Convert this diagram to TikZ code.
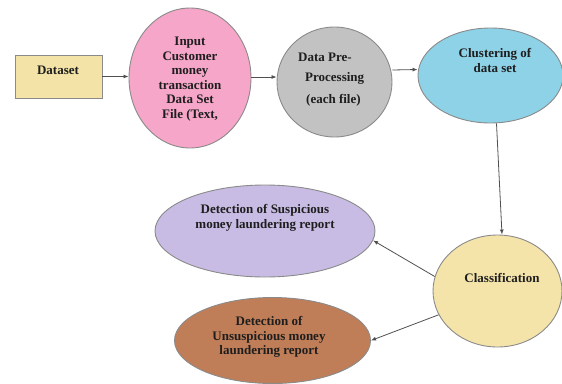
\documentclass[tikz,border=0pt]{standalone}
\usepackage{fontspec}
\setmainfont{Liberation Serif}[BoldFont={Liberation Serif Bold}]
\usetikzlibrary{shapes.geometric,arrows.meta}
\definecolor{bordc}{HTML}{8A8A8A}
\definecolor{arrc}{HTML}{505050}
\definecolor{txtc}{HTML}{1E1E1E}
\definecolor{dsc}{HTML}{F3E3A6}
\definecolor{pinkc}{HTML}{F6A6C8}
\definecolor{grayc}{HTML}{C2C2C2}
\definecolor{bluec}{HTML}{8ED2E8}
\definecolor{classc}{HTML}{F5E4AA}
\definecolor{purpc}{HTML}{C9BCE4}
\definecolor{brownc}{HTML}{C07E58}
\begin{document}
\begin{tikzpicture}[x=1pt,y=-1pt,
  shp/.style={draw=bordc, line width=0.9pt},
  ell/.style={shp, ellipse, inner sep=0pt},
  txt/.style={font=\fontsize{13}{14.5}\selectfont\bfseries, text=txtc, align=center, inner sep=0pt},
  arr/.style={draw=arrc, line width=0.8pt, -{Latex[length=5pt,width=4pt]}}]
\useasboundingbox (0,0) rectangle (562,383);
% shapes
\node[shp, rectangle, fill=dsc, minimum width=87pt, minimum height=43pt, inner sep=0pt] (ds) at (58.5,76.5) {};
\node[ell, fill=pinkc, minimum width=122pt, minimum height=140pt] (pink) at (190,78) {};
\node[ell, fill=grayc, minimum width=115pt, minimum height=110pt] (gray) at (334.5,82) {};
\node[ell, fill=bluec, minimum width=145pt, minimum height=95pt] (blue) at (490.5,75.5) {};
\node[ell, fill=classc, minimum width=129pt, minimum height=112pt] (cls) at (497.5,291) {};
\node[ell, fill=purpc, minimum width=220pt, minimum height=92pt] (purp) at (265,231) {};
\node[ell, fill=brownc, minimum width=196pt, minimum height=86pt] (brown) at (272.5,340.5) {};
% texts
\node[txt] (dst) at (58,70) {Dataset};
\node[txt] (pinkt) at (190,79) {Input\\Customer\\money\\transaction\\Data Set\\File (Text,};
\node[txt, anchor=west] (g1) at (298,57) {Data Pre-};
\node[txt, anchor=west] (g2) at (305,78) {Processing};
\node[txt, anchor=west] (g3) at (306,100) {(each file)};
\node[txt] (bluet) at (495,60.5) {Clustering of\\data set};
\node[txt] (clst) at (502,278) {Classification};
\node[txt] (purpt) at (265,218) {Detection of Suspicious\\money laundering report};
\node[txt] (brownt) at (269,337) {Detection of\\Unsuspicious money\\laundering report};
% connectors
\draw[arr] (ds.east) -- (pink.west |- ds.east);
\draw[arr] ([yshift=1pt]pink.east) -- ([yshift=5pt]gray.west);
\draw[arr] ([yshift=12pt]gray.east) -- ([yshift=6pt]blue.west);
\draw[arr] ([xshift=6pt]blue.south) -- ([xshift=4.5pt]cls.north);
\draw[arr] (cls.167) -- (purp.-5);
\draw[arr] (cls.202) -- (brown.east);
\end{tikzpicture}
\end{document}
